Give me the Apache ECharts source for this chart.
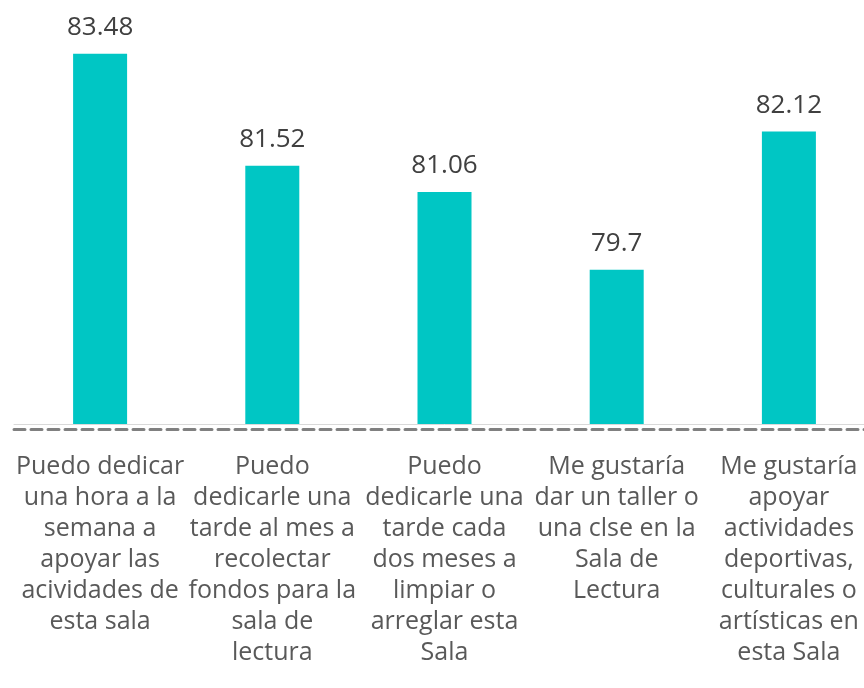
<!DOCTYPE html>
<html>
<head>
<meta charset="utf-8">
<script src="https://cdn.jsdelivr.net/npm/echarts@6/dist/echarts.min.js"></script>
<style>
  html, body { margin: 0; padding: 0; background: #fff; overflow: hidden; }
  #chart { width: 878px; height: 688px; }
</style>
</head>
<body>
<div id="chart"></div>
<script>
// categorias (con saltos de linea como en el original)
const categorias = [
  "Puedo dedicar\nuna hora a la\nsemana a\napoyar las\nacividades de\nesta sala",
  "Puedo\ndedicarle una\ntarde al mes a\nrecolectar\nfondos para la\nsala de\nlectura",
  "Puedo\ndedicarle una\ntarde cada\ndos meses a\nlimpiar o\narreglar esta\nSala",
  "Me gustaría\ndar un taller o\nuna clse en la\nSala de\nLectura",
  "Me gustaría\napoyar\nactividades\ndeportivas,\nculturales o\nartísticas en\nesta Sala"
];
const valores = [83.48, 81.52, 81.06, 79.7, 82.12];

const chart = echarts.init(document.getElementById("chart"));
const fuente = "Open Sans";

const option = {
  animation: false,
  grid: {
    left: 14,
    right: 3,
    top: 24,
    height: 400
  },
  xAxis: [
    {
      type: "category",
      data: categorias,
      axisLine: { show: true, lineStyle: { color: "#d9d9d9", width: 1 } },
      axisTick: { show: false },
      axisLabel: {
        interval: 0,
        margin: 27,
        color: "#595959",
        fontFamily: fuente,
        fontSize: 25,
        lineHeight: 31,
        align: "center"
      }
    },
    {
      // linea punteada bajo el eje
      type: "category",
      position: "bottom",
      offset: 5,
      data: categorias,
      axisLine: { show: true, lineStyle: { color: "#808080", width: 3, type: [11, 6] } },
      axisTick: { show: false },
      axisLabel: { show: false }
    }
  ],
  yAxis: {
    type: "value",
    min: 77,
    max: 84,
    show: false,
    splitLine: { show: false }
  },
  series: [
    {
      type: "bar",
      data: valores,
      barWidth: 54,
      itemStyle: { color: "#00c6c4" },
      label: {
        show: true,
        position: "top",
        distance: 13,
        color: "#404040",
        fontFamily: fuente,
        fontSize: 26
      }
    }
  ]
};

chart.setOption(option);
</script>
</body>
</html>
